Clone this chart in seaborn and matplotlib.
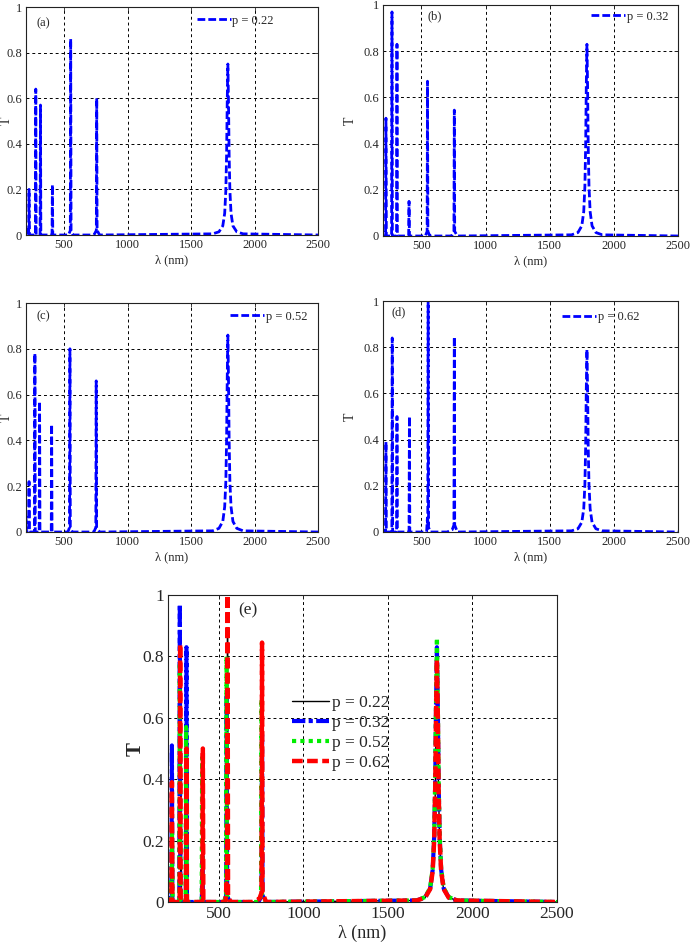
import numpy as np
import pandas as pd
import seaborn as sns
import matplotlib.pyplot as plt

# broad resonance near 1790 nm (shared wavelength samples)
lam_broad = [1670, 1720, 1750, 1765, 1774, 1780, 1785, 1790, 1795, 1800, 1806, 1815, 1830, 1860, 1910]

# p = 0.22
lam_22 = [200, 203, 221, 224, 227, 274, 277, 280, 311, 314, 317, 405, 408, 411,
          535, 549, 552, 555, 570, 735, 754, 757, 760, 780] + lam_broad + [2500]
t_22 = [0.03, 0, 0, 0.20, 0, 0, 0.64, 0, 0, 0.57, 0, 0, 0.22, 0,
        0, 0.02, 0.86, 0.02, 0, 0, 0.02, 0.60, 0.02, 0,
        0.005, 0.014, 0.04, 0.095, 0.195, 0.35, 0.585, 0.75, 0.585, 0.35, 0.195, 0.095, 0.04, 0.014, 0.005, 0]

# p = 0.32
lam_32 = [200, 203, 220, 223, 226, 267, 270, 273, 306, 309, 312, 400, 403, 406,
          530, 544, 547, 550, 565, 735, 753, 756, 759, 780] + lam_broad + [2500]
t_32 = [0.02, 0, 0, 0.51, 0, 0, 0.97, 0, 0, 0.83, 0, 0, 0.15, 0,
        0, 0.02, 0.67, 0.02, 0, 0, 0.02, 0.545, 0.02, 0,
        0.005, 0.015, 0.044, 0.105, 0.215, 0.39, 0.65, 0.83, 0.65, 0.39, 0.215, 0.105, 0.044, 0.015, 0.005, 0]

# p = 0.52
lam_52 = [200, 204, 221, 224, 227, 267, 270, 273, 304, 307, 310, 399, 402, 405,
          530, 543, 546, 549, 565, 735, 750, 753, 756, 780] + lam_broad + [2500]
t_52 = [0.07, 0, 0, 0.22, 0, 0, 0.78, 0, 0, 0.57, 0, 0, 0.47, 0,
        0, 0.02, 0.80, 0.02, 0, 0, 0.02, 0.66, 0.02, 0,
        0.005, 0.016, 0.046, 0.11, 0.22, 0.40, 0.67, 0.86, 0.67, 0.40, 0.22, 0.11, 0.046, 0.016, 0.005, 0]

# p = 0.62
lam_62 = [200, 203, 220, 223, 226, 269, 272, 275, 306, 309, 312, 403, 406, 409,
          540, 546, 549, 552, 555, 570, 700, 740, 753, 756, 759, 780] + lam_broad + [2500]
t_62 = [0.01, 0, 0, 0.39, 0, 0, 0.84, 0, 0, 0.50, 0, 0, 0.50, 0,
        0, 0.06, 0.03, 1.0, 0.02, 0, 0, 0.01, 0.03, 0.845, 0.03, 0,
        0.005, 0.014, 0.042, 0.10, 0.205, 0.37, 0.62, 0.79, 0.62, 0.37, 0.205, 0.10, 0.042, 0.014, 0.005, 0]

series = [("p = 0.22", lam_22, t_22), ("p = 0.32", lam_32, t_32),
          ("p = 0.52", lam_52, t_52), ("p = 0.62", lam_62, t_62)]
panel_tags = ["(a)", "(b)", "(c)", "(d)"]
xticks = [500, 1000, 1500, 2000, 2500]
yticks = [0, 0.2, 0.4, 0.6, 0.8, 1]
ytick_labels = ["0", "0.2", "0.4", "0.6", "0.8", "1"]

sns.set_style("white")
plt.rcParams["font.family"] = ["Liberation Serif", "DejaVu Serif"]

fig = plt.figure(figsize=(6.91, 9.42), dpi=100)
W, H = 691, 942


def px_axes(l, r, t, b):
    return fig.add_axes([l / W, 1 - b / H, (r - l) / W, (b - t) / H])


def style_axes(ax, fs):
    ax.set_xlim(200, 2500)
    ax.set_ylim(0, 1)
    ax.set_xticks(xticks)
    ax.set_yticks(yticks)
    ax.set_yticklabels(ytick_labels)
    ax.tick_params(direction="in", top=True, right=True, labelsize=fs, length=3, width=0.6, pad=3)
    ax.set_axisbelow(True)
    ax.grid(True, color="k", linestyle=(0, (3, 3)), linewidth=0.7)
    for s in ax.spines.values():
        s.set_color("#222222")
        s.set_linewidth(0.8)


boxes = [(26, 318, 7, 235), (383, 678, 5, 236), (26, 318, 303, 532), (383, 678, 301, 532)]
tag_pos = [(0.035, 0.93), (0.15, 0.95), (0.035, 0.94), (0.03, 0.95)]
leg_pos = [(0.585, 0.94), (0.705, 0.95), (0.70, 0.94), (0.607, 0.93)]
ylab_x = [-0.045, -0.09, -0.045, -0.09]

for i, (lab, lam, t) in enumerate(series):
    ax = px_axes(*boxes[i])
    df = pd.DataFrame({"lam": lam, "T": t})
    sns.lineplot(data=df, x="lam", y="T", ax=ax, sort=False, estimator=None,
                 color="#0000ff", linewidth=2.0, linestyle=(0, (2.8, 1.1)), label=lab)
    style_axes(ax, 9)
    ax.set_xlabel("λ (nm)", fontsize=9, labelpad=2)
    ax.set_ylabel("T", fontsize=10)
    ax.yaxis.set_label_coords(ylab_x[i], 0.5)
    ax.text(tag_pos[i][0], tag_pos[i][1], panel_tags[i], transform=ax.transAxes,
            fontsize=9, va="center", ha="left")
    ax.legend(loc="center left", bbox_to_anchor=leg_pos[i], frameon=False, fontsize=9,
              handlelength=2.7, handletextpad=0.15, borderpad=0, borderaxespad=0)

# panel (e): all together
ax = px_axes(168, 557, 595, 902)
styles = [("k", 1.0, "-"), ("#0000ff", 3.0, (0, (3.2, 0.8, 1.0, 0.8))),
          ("#00ee00", 3.0, (0, (1.0, 1.0))), ("#ff0000", 3.2, (0, (2.4, 1.0)))]
for (lab, lam, t), (c, lw, ls) in zip(series, styles):
    df = pd.DataFrame({"lam": lam, "T": t})
    sns.lineplot(data=df, x="lam", y="T", ax=ax, sort=False, estimator=None,
                 color=c, linewidth=lw, linestyle=ls, label=lab)
style_axes(ax, 12.5)
ax.set_xlabel("λ (nm)", fontsize=13, labelpad=2)
ax.set_ylabel("T", fontsize=15, fontweight="bold")
ax.yaxis.set_label_coords(-0.057, 0.5)
ax.text(0.18, 0.95, "(e)", transform=ax.transAxes, fontsize=12.5, va="center", ha="left")
ax.legend(loc="center left", bbox_to_anchor=(0.32, 0.55), frameon=False, fontsize=12.5,
          handlelength=2.1, handletextpad=0.2, labelspacing=0.22, borderpad=0, borderaxespad=0)

fig.savefig("out.png", dpi=100)
